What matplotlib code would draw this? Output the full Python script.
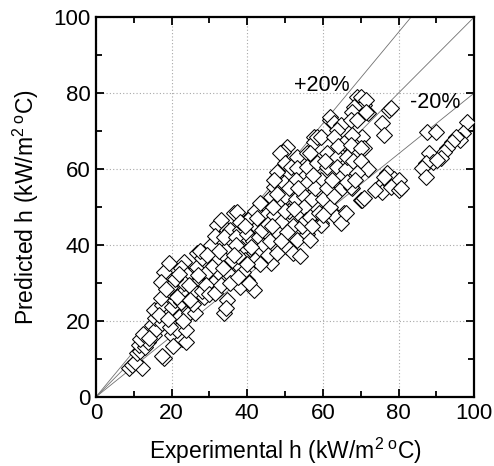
import matplotlib
matplotlib.use("Agg")
import matplotlib.pyplot as plt
import numpy as np

plt.rcParams["font.family"] = ["Liberation Sans", "DejaVu Sans"]
plt.rcParams["mathtext.fontset"] = "custom"
plt.rcParams["mathtext.rm"] = "Liberation Sans"
plt.rcParams["mathtext.it"] = "Liberation Sans"

# experimental vs predicted heat transfer coefficient (kW/m2 C)
exp_h = [
    8.7, 9.5, 12.2, 10.4, 10.9, 11.8, 11.3, 13.1, 13.8, 11.8, 15.3, 14.9, 15.9, 15.7, 15.3, 12.5, 14.0,
    17.9, 17.6, 17.5, 20.2, 22.8, 23.7, 21.5, 23.7, 19.5, 18.4, 17.5, 20.2, 17.1, 21.0, 22.5, 24.6,
    21.9, 24.6, 26.3, 20.2, 19.5, 25.4, 26.5, 25.8, 17.9, 19.3, 23.2, 22.5, 24.1, 17.1, 19.7, 18.5,
    23.2, 24.5, 21.5, 25.0, 21.0, 22.0, 16.8, 19.0, 23.0, 20.5,
    27.6, 26.7, 29.0, 26.7, 30.3, 32.0, 33.0, 34.7, 35.5, 32.0, 33.5, 37.3, 38.2, 34.7, 32.0, 30.3,
    31.0, 28.5, 34.7, 33.8, 34.5, 28.0, 29.5, 31.0, 32.5, 34.0, 35.0, 28.0, 27.0, 29.0, 30.0, 31.5,
    33.0, 36.0, 35.5, 27.5, 30.5, 32.5, 36.0, 33.5, 29.5, 31.5, 34.0, 36.4, 37.3, 35.5,
    39.1, 40.9, 41.7, 40.0, 40.5, 40.0, 41.0, 42.6, 44.4, 38.0, 37.0, 38.5, 39.5, 37.5, 40.0, 41.5,
    43.0, 44.0, 43.0, 44.5, 45.0, 42.0, 39.0, 42.0, 45.0, 46.2, 46.2, 45.5, 43.5, 37.0, 38.0, 39.5,
    41.0, 42.5, 44.0, 45.5, 46.0, 43.5, 37.5, 40.0, 36.5,
    47.0, 47.9, 50.6, 49.5, 48.8, 50.1, 47.9, 51.5, 53.2, 55.9, 53.2, 55.9, 49.7, 47.0, 52.8, 55.9,
    47.9, 50.6, 53.2, 55.9, 47.0, 48.0, 49.0, 50.0, 51.0, 52.0, 53.0, 54.0, 55.0, 48.5, 50.5, 52.0,
    54.0, 49.0, 51.0, 53.5, 55.0, 46.5, 48.0, 50.0, 52.5, 54.5, 55.5, 46.8,
    57.6, 57.7, 56.7, 58.5, 59.4, 61.2, 62.0, 62.0, 63.0, 64.7, 63.8, 62.9, 65.5, 63.8, 58.5, 61.2,
    63.8, 64.7, 59.4, 56.7, 59.4, 56.7, 58.9, 59.4, 63.8, 65.6, 63.4, 64.7, 57.0, 58.0, 60.0, 61.0,
    62.0, 63.0, 60.0, 57.5, 60.5, 62.5, 65.0, 64.0, 66.0, 57.0,
    69.1, 70.0, 70.8, 68.2, 67.8, 72.0, 67.3, 69.0, 71.3, 71.3, 70.4, 70.8, 67.8, 67.3, 70.0, 66.4,
    67.8, 67.3, 70.0, 70.4, 70.8, 66.0, 68.0, 70.0, 72.0, 69.0, 66.5, 68.5,
    77.5, 78.0, 75.7, 76.1, 77.0, 78.8, 80.1, 76.1, 74.8, 75.7, 73.9, 77.9, 80.1, 76.1, 80.6,
    87.6, 89.8, 98.2, 97.1, 96.3, 95.1, 94.2, 92.9, 92.0, 91.1, 88.0, 89.0, 87.2, 86.3, 87.2, 90.2,
]
pred_h = [
    7.6, 8.5, 7.6, 9.3, 11.5, 12.2, 13.7, 13.2, 14.5, 15.4, 16.3, 18.9, 17.8, 20.7, 22.9, 16.5, 15.5,
    10.2, 10.8, 19.4, 16.3, 15.4, 14.6, 17.6, 17.6, 18.5, 22.4, 24.2, 23.8, 26.0, 25.5, 25.0, 25.5,
    21.1, 22.0, 22.0, 29.0, 28.0, 28.6, 27.5, 24.5, 33.0, 35.2, 35.6, 34.0, 32.1, 30.3, 29.0, 28.5,
    29.9, 29.5, 26.4, 25.5, 31.0, 32.5, 21.5, 20.5, 20.0, 13.5,
    30.8, 34.3, 35.6, 37.8, 38.2, 45.3, 46.6, 43.9, 44.0, 41.3, 40.5, 34.3, 29.0, 33.4, 32.6, 30.8,
    30.0, 26.4, 25.5, 22.0, 23.5, 28.0, 33.0, 34.5, 36.5, 37.5, 39.5, 36.5, 32.0, 29.5, 27.0, 27.5,
    29.5, 36.0, 32.0, 38.5, 40.0, 38.5, 41.0, 34.0, 37.5, 42.5, 42.0, 48.3, 48.8, 30.0,
    41.3, 38.7, 28.2, 30.8, 30.0, 46.6, 47.5, 44.8, 50.0, 44.0, 42.0, 39.0, 36.0, 37.0, 43.0, 41.0,
    42.0, 46.0, 38.0, 40.0, 43.5, 36.0, 33.0, 49.0, 48.0, 52.7, 35.2, 37.5, 35.0, 40.0, 46.0, 45.0,
    39.5, 47.0, 44.0, 45.5, 41.0, 51.0, 31.5, 35.0, 37.5,
    55.3, 58.0, 65.9, 64.5, 64.1, 61.5, 59.3, 60.6, 63.2, 64.1, 60.2, 60.6, 56.2, 57.1, 57.1, 56.2,
    37.8, 39.5, 41.3, 43.0, 48.0, 51.0, 46.0, 53.0, 49.0, 45.0, 52.0, 48.0, 53.0, 43.0, 43.5, 38.0,
    37.0, 41.0, 55.0, 55.0, 50.0, 45.0, 53.5, 49.0, 49.5, 45.0, 46.5, 50.0,
    68.5, 67.2, 64.1, 68.5, 68.5, 64.1, 72.9, 73.8, 72.0, 71.6, 70.3, 68.5, 66.8, 63.2, 61.5, 60.6,
    60.6, 58.0, 57.1, 41.3, 45.7, 47.4, 48.3, 45.3, 47.4, 48.3, 47.4, 45.7, 52.0, 55.0, 52.0, 55.0,
    50.0, 53.0, 48.0, 58.5, 62.0, 57.0, 55.0, 66.0, 60.0, 45.0,
    79.0, 79.0, 76.8, 76.4, 75.0, 74.7, 72.9, 73.0, 78.2, 75.0, 68.5, 65.5, 69.0, 66.3, 65.5, 63.2,
    54.9, 55.3, 51.8, 51.8, 52.3, 48.3, 62.0, 62.0, 60.0, 59.0, 56.5, 57.0,
    75.5, 76.0, 72.0, 68.9, 58.9, 57.5, 57.1, 56.7, 55.3, 54.0, 54.5, 55.3, 54.5, 58.0, 54.9,
    69.8, 69.8, 72.5, 69.4, 67.6, 68.5, 67.2, 65.5, 64.6, 62.8, 64.1, 61.9, 61.5, 60.2, 58.0, 62.4,
]

ref_x = [0, 100]
band_factors = [1.0, 1.2, 0.8]


def main() -> None:
    fig = plt.figure(figsize=(4.94, 4.66), dpi=100)
    ax = fig.add_axes([0.194, 0.148, 0.766, 0.8155])

    ax.set_axisbelow(True)
    ax.grid(True, which="major", linestyle=(0, (1, 2)), color="#a8a8a8", linewidth=0.8)

    for f in band_factors:
        ax.plot(ref_x, [v * f for v in ref_x], color="#707070", linewidth=0.6, zorder=2)

    ax.plot(exp_h, pred_h, linestyle="none", marker="D", markersize=8.5,
            markerfacecolor="white", markeredgecolor="black", markeredgewidth=0.75,
            clip_on=True, zorder=3)

    ax.text(52.5, 82, "+20%", fontsize=15.5, ha="left", va="center", zorder=4)
    ax.text(83, 77.5, "-20%", fontsize=15.5, ha="left", va="center", zorder=4)

    ax.set_xlim(0, 100)
    ax.set_ylim(0, 100)
    ax.set_xticks(np.arange(0, 101, 20))
    ax.set_yticks(np.arange(0, 101, 20))
    ax.set_xticks(np.arange(10, 100, 20), minor=True)
    ax.set_yticks(np.arange(10, 100, 20), minor=True)
    ax.tick_params(which="both", direction="in", top=True, right=True, width=1.3)
    ax.tick_params(which="major", length=6, labelsize=16, pad=4)
    ax.tick_params(which="minor", length=4)
    for s in ax.spines.values():
        s.set_linewidth(1.6)

    ax.set_xlabel(r"Experimental h (kW/m$^{2\ o}$C)", fontsize=16.5, labelpad=9)
    ax.set_ylabel(r"Predicted h (kW/m$^{2\ o}$C)", fontsize=16.5, labelpad=9)

    fig.savefig("out.png", dpi=100)
    plt.close(fig)


if __name__ == "__main__":
    main()
